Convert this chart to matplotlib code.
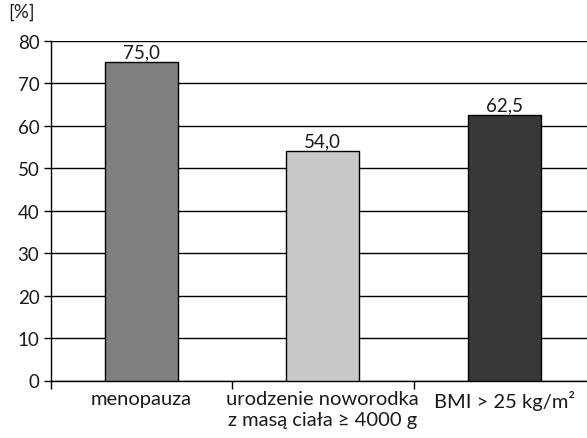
import matplotlib
matplotlib.use("Agg")
import matplotlib.pyplot as plt
import numpy as np

categories = ["menopauza", "urodzenie noworodka\nz masą ciała ≥ 4000 g", "BMI > 25 kg/m²"]
values = [75.0, 54.0, 62.5]
colors = ["#808080", "#c8c8c8", "#383838"]
yticks = [0, 10, 20, 30, 40, 50, 60, 70, 80]

plt.rcParams['font.family'] = ['Lato', 'DejaVu Sans']
FS = 13.5

fig = plt.figure(figsize=(5.87, 4.39), dpi=100)
ax = fig.add_axes([50.5/587, 57.5/439, 544.5/587, 339.5/439])
x = np.arange(len(categories))
bars = ax.bar(x, values, width=0.40, color=colors, edgecolor="black", linewidth=1, zorder=3)
for xi, v in zip(x, values):
    ax.text(xi, v + 0.4, f"{v:.1f}".replace(".", ","), ha="center", va="bottom", fontsize=FS, color="#1a1a1a")

ax.set_xlim(-0.5, 2.5)
ax.set_ylim(0, 80)
ax.set_yticks(yticks)
ax.set_yticklabels([str(t) for t in yticks], fontsize=FS, color="#1a1a1a")
ax.yaxis.grid(True, color="black", linewidth=1, zorder=0)
ax.set_axisbelow(True)
ax.set_xticks(x)
ax.set_xticklabels(categories, fontsize=14.5, color="#1a1a1a", linespacing=1.25)
ax.set_xticks([-0.5, 0.5, 1.5, 2.5], minor=True)
ax.tick_params(axis="x", which="major", length=0, pad=7)
ax.tick_params(axis="x", which="minor", length=6, width=1, direction="out")
ax.tick_params(axis="y", length=5, width=1, direction="out", pad=3)
for s in ["top", "right"]:
    ax.spines[s].set_visible(False)
ax.spines["left"].set_linewidth(1)
ax.spines["bottom"].set_linewidth(1)
fig.text(8/587, 1 - 12/439, "[%]", fontsize=FS, color="#1a1a1a", va="center", ha="left")
fig.savefig("out.png", dpi=100)
